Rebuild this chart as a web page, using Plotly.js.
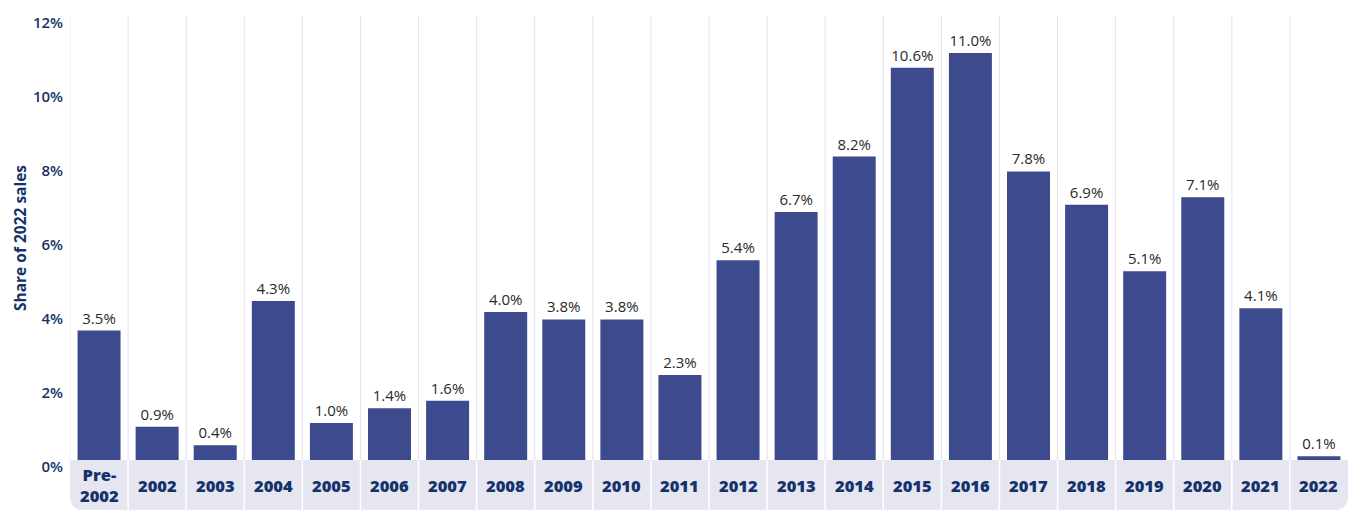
<!DOCTYPE html>
<html>
<head>
<meta charset="utf-8">
<script src="https://cdn.plot.ly/plotly-3.0.1.min.js"></script>
<style>html,body{margin:0;padding:0;background:#fff;}#chart{width:1353px;height:516px;}</style>
</head>
<body>
<div id="chart"></div>
<script>
const categories = ["Pre-2002","2002","2003","2004","2005","2006","2007","2008","2009","2010","2011","2012","2013","2014","2015","2016","2017","2018","2019","2020","2021","2022"];
const categoryLabels = ["Pre-<br>2002","2002","2003","2004","2005","2006","2007","2008","2009","2010","2011","2012","2013","2014","2015","2016","2017","2018","2019","2020","2021","2022"];
const shareValues = [3.5,0.9,0.4,4.3,1.0,1.4,1.6,4.0,3.8,3.8,2.3,5.4,6.7,8.2,10.6,11.0,7.8,6.9,5.1,7.1,4.1,0.1];
const yTickVals = [0,2,4,6,8,10,12];
const yTickText = ["0%","2%","4%","6%","8%","10%","12%"];

const navy = "#15336a";
const barColor = "#3e4a8e";
const n = categories.length;
const bandDepth = 50/444;
const rx = 14/1278, ry = 14/444;

const shapes = [];
shapes.push({type:"path", xref:"paper", yref:"paper", layer:"below",
  path:`M 0,0 L 1,0 L 1,${-bandDepth+ry} Q 1,${-bandDepth} ${1-rx},${-bandDepth} L ${rx},${-bandDepth} Q 0,${-bandDepth} 0,${-bandDepth+ry} Z`,
  fillcolor:"#e6e6f0", line:{width:0}});
for (let i = 1; i < n; i++) {
  shapes.push({type:"line", xref:"paper", yref:"paper", layer:"above", x0:i/n, x1:i/n, y0:0, y1:-bandDepth, line:{color:"#ffffff", width:1.5}});
}
for (let i = 0; i < n; i++) {
  shapes.push({type:"line", xref:"x", yref:"y", layer:"below", x0:i-0.5, x1:i-0.5, y0:0, y1:12, line:{color:"#e2e2ea", width:1}});
}

const annotations = categories.map((c, i) => ({
  x: i, y: -bandDepth/2, xref:"x", yref:"paper", text: categoryLabels[i], showarrow:false,
  yanchor:"middle", xanchor:"center", font:{family:"'Open Sans', Lato, sans-serif", size:16.5, color:navy, weight:800}
}));

const trace = {
  type:"bar", x: categories.map((c,i)=>i), y: shareValues,
  marker:{color: barColor}, width: 0.74,
  text: shareValues.map(v => v.toFixed(1) + "%"), textposition:"outside",
  textfont:{family:"'Open Sans', Lato, sans-serif", size:15, color:"#2a2a2a"},
  cliponaxis:false, hoverinfo:"skip"
};

const layout = {
  width:1353, height:516,
  margin:{l:70, r:5, t:16, b:56},
  paper_bgcolor:"#ffffff", plot_bgcolor:"rgba(0,0,0,0)",
  showlegend:false,
  xaxis:{range:[-0.5, n-0.5], showticklabels:false, showgrid:false, zeroline:false, showline:false, ticks:"", fixedrange:true},
  yaxis:{range:[0,12], tickvals:yTickVals, ticktext:yTickText, showgrid:false, zeroline:false, showline:false, ticks:"",
    ticklabelshift:7, ticklabelstandoff:6,
    tickfont:{family:"'Open Sans', Lato, sans-serif", size:15, color:navy, weight:600},
    title:{text:"Share of 2022 sales", standoff:2, font:{family:"'Open Sans', Lato, sans-serif", size:15.5, color:navy, weight:700}}},
  shapes: shapes,
  annotations: annotations
};

Plotly.newPlot("chart", [trace], layout, {displayModeBar:false, staticPlot:true});
</script>
</body>
</html>
